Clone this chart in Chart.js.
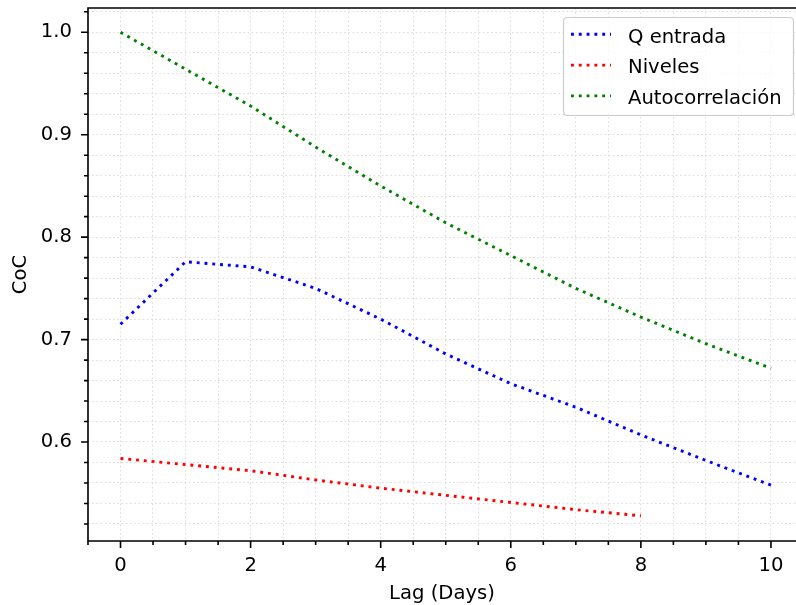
<!DOCTYPE html>
<html>
<head>
<meta charset="utf-8">
<script src="https://cdn.jsdelivr.net/npm/chart.js@4.4.1/dist/chart.umd.min.js"></script>
<style>
  html, body { margin: 0; padding: 0; background: #fff; overflow: hidden; }
  #wrap { width: 796px; height: 605px; }
</style>
</head>
<body>
<div id="wrap"><canvas id="cocChart" width="796" height="605"></canvas></div>
<script>
// values
var lags = [0, 1, 2, 3, 4, 5, 6, 7, 8, 9, 10];
var qEntrada = [0.715, 0.776, 0.771, 0.750, 0.720, 0.686, 0.657, 0.634, 0.607, 0.582, 0.558];
var niveles = [0.584, 0.578, 0.572, 0.563, 0.555, 0.548, 0.541, 0.534, 0.528];
var autocorrelacion = [1.0, 0.964, 0.928, 0.888, 0.850, 0.814, 0.782, 0.750, 0.722, 0.696, 0.672];

var seriesNames = ["Q entrada", "Niveles", "Autocorrelación"];
var seriesColors = ["#0000ff", "#ff0000", "#008000"];

var xTickLabels = [0, 2, 4, 6, 8, 10];
var yTickLabels = [0.6, 0.7, 0.8, 0.9, 1.0];

var FONT = "DejaVu Sans";
var FSIZE = 19.6;

// the original figure is cut off on the right, just past x = 10.38
var X_MIN = -0.5, X_MAX = 10.385;
var Y_MIN = 0.5034, Y_MAX = 1.0237;

function toPoints(vals) {
  var pts = [];
  for (var i = 0; i < vals.length; i++) pts.push({x: lags[i], y: vals[i]});
  return pts;
}

function makeSet(i, vals) {
  return {
    label: seriesNames[i],
    data: toPoints(vals),
    borderColor: seriesColors[i],
    backgroundColor: seriesColors[i],
    borderWidth: 2.9,
    borderDash: [2.9, 4.9],
    borderCapStyle: "butt",
    pointRadius: 0,
    tension: 0,
    fill: false
  };
}

// chart.js adds tick padding around the area, we want the area where matplotlib put it
function noPad(scale) {
  scale.paddingTop = 0;
  scale.paddingBottom = 0;
  scale.paddingLeft = 0;
  scale.paddingRight = 0;
}

// ticks, spines and legend drawn like matplotlib
var mplDecor = {
  id: "mplDecor",
  afterDraw: function(chart) {
    var ctx = chart.ctx;
    var a = chart.chartArea;
    var xs = chart.scales.x, ys = chart.scales.y;
    ctx.save();
    ctx.strokeStyle = "#000";
    ctx.lineWidth = 1.6;
    ctx.setLineDash([]);
    // spines (right one is outside the picture)
    ctx.beginPath();
    ctx.moveTo(a.right + 2, a.top);
    ctx.lineTo(a.left, a.top);
    ctx.lineTo(a.left, a.bottom);
    ctx.lineTo(a.right + 2, a.bottom);
    ctx.stroke();
    // x ticks
    ctx.beginPath();
    for (var v = -0.5; v <= X_MAX; v += 0.5) {
      var px = xs.getPixelForValue(v);
      var major = Math.abs(v / 2 - Math.round(v / 2)) < 1e-6 && v >= 0;
      ctx.moveTo(px, a.bottom);
      ctx.lineTo(px, a.bottom + (major ? 7 : 4));
    }
    // y ticks
    for (var k = 26; k <= 51; k++) {
      var val = k / 50;
      if (val < ys.min || val > ys.max) continue;
      var py = ys.getPixelForValue(val);
      var maj = k % 5 === 0;
      ctx.moveTo(a.left, py);
      ctx.lineTo(a.left - (maj ? 7 : 4), py);
    }
    ctx.stroke();

    // legend
    var lx = 563.5, ly = 17.5, lw = 230, lh = 98, r = 4;
    ctx.beginPath();
    ctx.moveTo(lx + r, ly);
    ctx.lineTo(lx + lw - r, ly);
    ctx.quadraticCurveTo(lx + lw, ly, lx + lw, ly + r);
    ctx.lineTo(lx + lw, ly + lh - r);
    ctx.quadraticCurveTo(lx + lw, ly + lh, lx + lw - r, ly + lh);
    ctx.lineTo(lx + r, ly + lh);
    ctx.quadraticCurveTo(lx, ly + lh, lx, ly + lh - r);
    ctx.lineTo(lx, ly + r);
    ctx.quadraticCurveTo(lx, ly, lx + r, ly);
    ctx.closePath();
    ctx.fillStyle = "rgba(255,255,255,0.8)";
    ctx.fill();
    ctx.strokeStyle = "#cccccc";
    ctx.lineWidth = 1.2;
    ctx.stroke();

    ctx.font = FSIZE + "px '" + FONT + "'";
    ctx.textBaseline = "alphabetic";
    ctx.textAlign = "left";
    chart.data.datasets.forEach(function(ds, i) {
      var hy = 34.3 + i * 30.8;
      ctx.beginPath();
      ctx.strokeStyle = ds.borderColor;
      ctx.lineWidth = ds.borderWidth;
      ctx.lineCap = "butt";
      ctx.setLineDash(ds.borderDash);
      ctx.moveTo(571, hy);
      ctx.lineTo(611, hy);
      ctx.stroke();
      ctx.setLineDash([]);
      ctx.fillStyle = "#000";
      ctx.fillText(ds.label, 628, hy + 8.2);
    });
    ctx.restore();
  }
};

var gridStyle = {
  color: "#dddddd",
  lineWidth: 1.1,
  drawTicks: false
};

var canvasCoc = document.getElementById("cocChart");
var cocChart = new Chart(canvasCoc, {
  type: "line",
  data: {
    datasets: [
      makeSet(0, qEntrada),
      makeSet(1, niveles),
      makeSet(2, autocorrelacion)
    ]
  },
  plugins: [mplDecor],
  options: {
    responsive: false,
    animation: false,
    devicePixelRatio: 1,
    layout: { padding: { left: 0, top: 8, right: 0, bottom: 0 } },
    plugins: {
      legend: { display: false },
      tooltip: { enabled: false }
    },
    scales: {
      x: {
        type: "linear",
        min: X_MIN,
        max: X_MAX,
        afterBuildTicks: function(scale) {
          var t = [];
          for (var v = -0.5; v <= X_MAX; v += 0.5) t.push({value: Math.round(v * 10) / 10});
          scale.ticks = t;
        },
        afterFit: function(scale) { scale.height = 64; noPad(scale); },
        ticks: {
          autoSkip: false,
          maxRotation: 0,
          padding: 13.5,
          color: "#000",
          font: { family: FONT, size: FSIZE },
          callback: function(value) {
            return xTickLabels.indexOf(value) >= 0 ? String(value) : "";
          }
        },
        grid: gridStyle,
        border: { display: false, dash: [1.6, 2.6] },
        title: {
          display: true,
          text: "Lag (Days)",
          color: "#000",
          font: { family: FONT, size: FSIZE },
          padding: { top: 0, bottom: -1 }
        }
      },
      y: {
        type: "linear",
        min: Y_MIN,
        max: Y_MAX,
        afterBuildTicks: function(scale) {
          var t = [];
          for (var k = 26; k <= 51; k++) t.push({value: k / 50});
          scale.ticks = t;
        },
        afterFit: function(scale) { scale.width = 88; noPad(scale); },
        ticks: {
          autoSkip: false,
          padding: 16,
          color: "#000",
          font: { family: FONT, size: FSIZE },
          callback: function(value) {
            for (var i = 0; i < yTickLabels.length; i++) {
              if (Math.abs(yTickLabels[i] - value) < 1e-6) return yTickLabels[i].toFixed(1);
            }
            return "";
          }
        },
        grid: gridStyle,
        border: { display: false, dash: [1.6, 2.6] },
        title: {
          display: true,
          text: "CoC",
          color: "#000",
          font: { family: FONT, size: FSIZE },
          padding: { top: 9, bottom: 0 }
        }
      }
    }
  }
});
</script>
</body>
</html>
